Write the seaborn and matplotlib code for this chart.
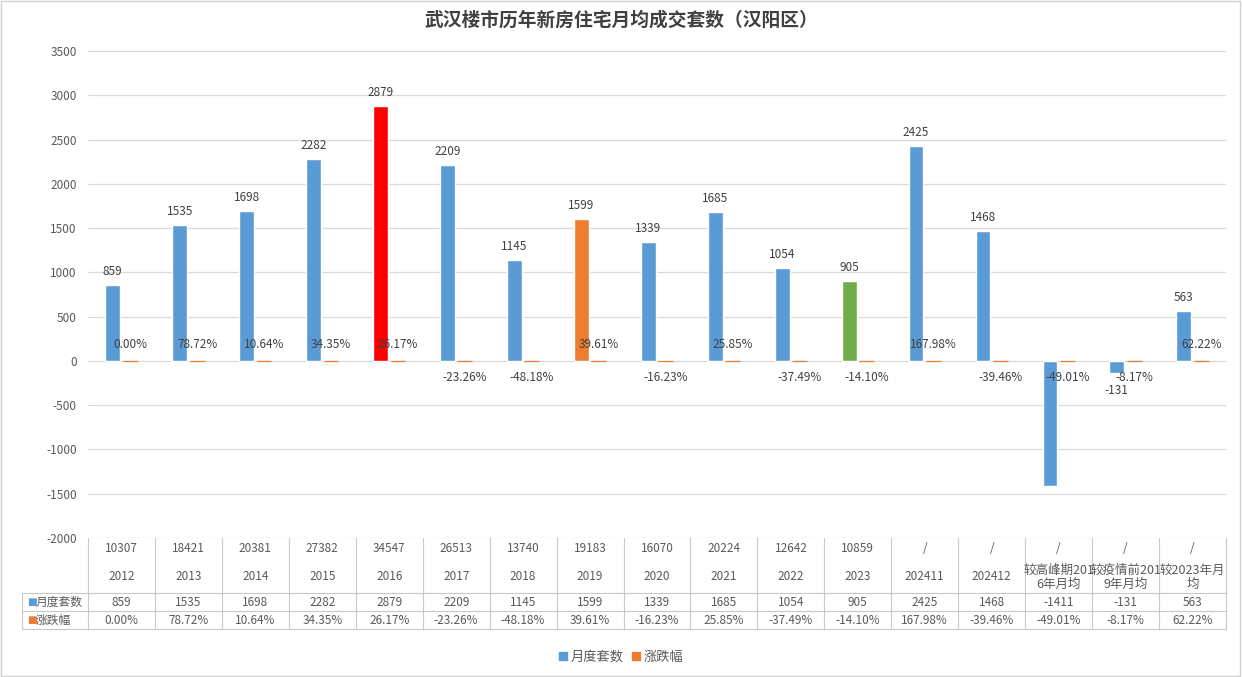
import numpy as np
import pandas as pd
import matplotlib
matplotlib.use("Agg")
import matplotlib.pyplot as plt
import seaborn as sns
from matplotlib.patches import Rectangle

# ---------------- data ----------------
categories = ["2012", "2013", "2014", "2015", "2016", "2017", "2018", "2019",
              "2020", "2021", "2022", "2023", "202411", "202412",
              "较高峰期201\n6年月均", "较疫情前201\n9年月均", "较2023年月\n均"]
totals = ["10307", "18421", "20381", "27382", "34547", "26513", "13740", "19183",
          "16070", "20224", "12642", "10859", "/", "/", "/", "/", "/"]
monthly = [859, 1535, 1698, 2282, 2879, 2209, 1145, 1599, 1339, 1685, 1054, 905,
           2425, 1468, -1411, -131, 563]
pct = [0.00, 78.72, 10.64, 34.35, 26.17, -23.26, -48.18, 39.61, -16.23, 25.85,
       -37.49, -14.10, 167.98, -39.46, -49.01, -8.17, 62.22]
series_names = ["月度套数", "涨跌幅"]
yticks = [-2000, -1500, -1000, -500, 0, 500, 1000, 1500, 2000, 2500, 3000, 3500]
title = "武汉楼市历年新房住宅月均成交套数（汉阳区）"

# ---------------- style ----------------
BLUE = "#5B9BD5"
ORANGE = "#ED7D31"
highlight = {4: "#FF0000", 7: "#ED7D31", 11: "#70AD47"}
GRID = "#D9D9D9"
TXT = "#595959"
LBL = "#404040"

sns.set_theme(style="white")
plt.rcParams["font.family"] = ["Noto Sans CJK SC", "DejaVu Sans"]
plt.rcParams["axes.unicode_minus"] = False

W, H = 1242, 677
fig = plt.figure(figsize=(W / 100, H / 100), dpi=100)
L, R, T, B = 88, 1226, 51, 538
ax = fig.add_axes([L / W, 1 - B / H, (R - L) / W, (B - T) / H])

keys = [f"c{i}" for i in range(len(categories))]
df = pd.DataFrame({
    "cat": keys * 2,
    "series": [series_names[0]] * len(keys) + [series_names[1]] * len(keys),
    "value": monthly + [p / 100 for p in pct],
})

sns.barplot(data=df, x="cat", y="value", hue="series", order=keys,
            hue_order=series_names, palette=[BLUE, ORANGE], width=0.52, gap=0.15,
            saturation=1, errorbar=None, legend=False, ax=ax, zorder=3)

blue_bars = ax.containers[0]
orange_bars = ax.containers[1]
for i, p in enumerate(blue_bars.patches):
    if i in highlight:
        p.set_facecolor(highlight[i])
for p in orange_bars.patches:
    p.set_edgecolor(ORANGE)
    p.set_linewidth(0.9)

ax.set_xlim(-0.5, len(categories) - 0.5)
ax.set_ylim(yticks[0], yticks[-1])
ax.set_yticks(yticks)
ax.set_yticklabels([str(v) for v in yticks], color=TXT, fontsize=8.5)
ax.tick_params(axis="y", length=0, pad=8)
ax.set_xticks([])
ax.set_xlabel("")
ax.set_ylabel("")
ax.grid(axis="y", color=GRID, linewidth=0.9, zorder=0)
for s in ax.spines.values():
    s.set_visible(False)

# bar value labels
for i, p in enumerate(blue_bars.patches):
    v = monthly[i]
    x = p.get_x() + p.get_width() / 2
    if v >= 0:
        ax.annotate(str(v), (x, v), xytext=(0, 5), textcoords="offset points",
                    ha="center", va="bottom", fontsize=8.5, color=LBL, zorder=5)
    elif v > -1000:
        ax.annotate(str(v), (x, v), xytext=(0, -8), textcoords="offset points",
                    ha="center", va="top", fontsize=8.5, color=LBL, zorder=5)
for i, p in enumerate(orange_bars.patches):
    v = pct[i]
    x = p.get_x() + p.get_width() / 2
    off = 12 if v >= 0 else -12
    ax.annotate(f"{v:.2f}%", (x, 0), xytext=(0, off), textcoords="offset points",
                ha="center", va="center", fontsize=8.5, color=LBL, zorder=6)

# ---------------- data table ----------------
tr = ax.get_xaxis_transform()


def ya(Y):
    return (B - Y) / (B - T)


n = len(categories)
xl = -0.5 - 66 / ((R - L) / n)  # left edge of the row-label column
TL = "#C8C8C8"
lk = dict(transform=tr, clip_on=False, color=TL, linewidth=0.8)
for Y in (593, 611, 629):
    ax.plot([xl, n - 0.5], [ya(Y), ya(Y)], **lk)
for k in range(n + 1):
    ax.plot([k - 0.5, k - 0.5], [ya(B), ya(629)], **lk)
ax.plot([xl, xl], [ya(593), ya(629)], **lk)

for i in range(n):
    ax.text(i, ya(548), totals[i], transform=tr, ha="center", va="center",
            fontsize=8.5, color=TXT)
    ax.text(i, ya(577), categories[i], transform=tr, ha="center", va="center",
            fontsize=8.5 if "\n" not in categories[i] else 9, color=TXT,
            linespacing=1.1)
    ax.text(i, ya(602), str(monthly[i]), transform=tr, ha="center", va="center",
            fontsize=8.5, color=TXT)
    ax.text(i, ya(620), f"{pct[i]:.2f}%", transform=tr, ha="center", va="center",
            fontsize=8.5, color=TXT)

for Y, name, col in ((602, series_names[0], BLUE), (620, series_names[1], ORANGE)):
    ax.text(xl + 0.07, ya(Y), "■", transform=tr, ha="left", va="center",
            fontsize=7.5, color=col, family=["DejaVu Sans"])
    ax.text(xl + 0.2, ya(Y), name, transform=tr, ha="left", va="center",
            fontsize=8.5, color=TXT)

# ---------------- title, legend, border ----------------
fig.text(0.5, 1 - 20 / H, title, ha="center", va="center", fontsize=13.5,
         fontweight="bold", color="#404040")

handles = [Rectangle((0, 0), 1, 1, color=BLUE), Rectangle((0, 0), 1, 1, color=ORANGE)]
fig.legend(handles, series_names, loc="center", bbox_to_anchor=(0.5, 1 - 657 / H),
           ncol=2, frameon=False, fontsize=9.5, handlelength=0.6, handleheight=0.6,
           handletextpad=0.3, columnspacing=0.6, labelcolor=TXT)

fig.add_artist(Rectangle((0.001, 0.002), 0.997, 0.996, transform=fig.transFigure,
                         fill=False, edgecolor="#D0D0D0", linewidth=1))

fig.savefig("out.png", dpi=100, facecolor="white")
